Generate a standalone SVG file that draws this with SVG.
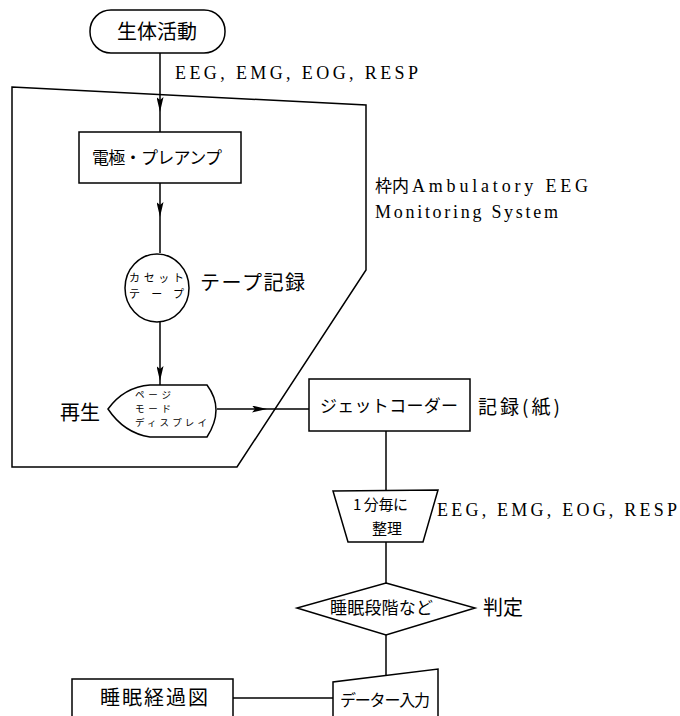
<svg xmlns="http://www.w3.org/2000/svg" width="680" height="716" viewBox="0 0 680 716">
<style>
.s{fill:none;stroke:#000;stroke-width:1.5}
.n{fill:#fff;stroke:#000;stroke-width:1.5}
.jp{font-family:"Noto Sans CJK JP","Noto Sans",sans-serif;fill:#000}
.en{font-family:"Liberation Serif","DejaVu Serif",serif;fill:#000}
</style>
<defs>
<marker id="ah" markerUnits="userSpaceOnUse" viewBox="0 0 15 7" refX="15" refY="3.5" markerWidth="15" markerHeight="7" orient="auto">
<path d="M0,0 L15,3.5 L0,7 L3,3.5 Z" fill="#000"/>
</marker>
</defs>
<g id="frame">
<path class="s" d="M12,87 L366,105 L366,270 L237,467 L12,467 Z"/>
</g>
<g id="connectors">
<path class="s" d="M160,53 V112 V132" marker-mid="url(#ah)"/>
<path class="s" d="M160,183 V217 V253" marker-mid="url(#ah)"/>
<path class="s" d="M160,322 V381 V385" marker-mid="url(#ah)"/>
<path class="s" d="M217,409 H267 H309" marker-mid="url(#ah)"/>
<path class="s" d="M386,431 V491"/>
<path class="s" d="M386,542 V583"/>
<path class="s" d="M386,635 V676"/>
<path class="s" d="M233,698 H333"/>
</g>
<g id="n-start">
<rect class="n" x="90" y="10" width="135" height="43" rx="21" ry="21"/>
<text class="jp" x="157" y="39" font-size="20" text-anchor="middle">生体活動</text>
</g>
<text class="en" x="175" y="79" font-size="18" textLength="243" lengthAdjust="spacing">EEG, EMG, EOG, RESP</text>
<g id="n-electrode">
<rect class="n" x="79" y="132" width="162" height="51"/>
<text class="jp" x="92" y="164" font-size="17" textLength="130" lengthAdjust="spacing">電極・プレアンプ</text>
</g>
<text class="jp" x="375" y="192" font-size="17">枠内</text>
<text class="en" x="412" y="192" font-size="18" textLength="176" lengthAdjust="spacing">Ambulatory EEG</text>
<text class="en" x="375" y="218" font-size="18" textLength="183" lengthAdjust="spacing">Monitoring System</text>
<g id="n-cassette">
<ellipse class="n" cx="157" cy="288" rx="32" ry="34"/>
<text class="jp" x="129" y="282" font-size="11" textLength="55" lengthAdjust="spacing">カセット</text>
<text class="jp" x="129" y="298" font-size="11" textLength="55" lengthAdjust="spacing">テープ</text>
</g>
<text class="jp" x="200" y="290" font-size="20" textLength="105" lengthAdjust="spacing">テープ記録</text>
<g id="n-display">
<path class="n" d="M108,409 Q124,387 150,385 L207,385 Q225,409 207,437 L150,437 Q124,433 108,409 Z"/>
<text class="jp" x="135" y="398" font-size="9.5" textLength="36" lengthAdjust="spacing">ページ</text>
<text class="jp" x="135" y="412" font-size="9.5" textLength="36" lengthAdjust="spacing">モード</text>
<text class="jp" x="135" y="426" font-size="9.5" textLength="72" lengthAdjust="spacing">ディスプレイ</text>
</g>
<text class="jp" x="60" y="420" font-size="20">再生</text>
<g id="n-jetcoder">
<rect class="n" x="309" y="379" width="161" height="52"/>
<text class="jp" x="320" y="412" font-size="17" textLength="138" lengthAdjust="spacing">ジェットコーダー</text>
</g>
<text class="jp" x="478" y="414" font-size="19" textLength="82" lengthAdjust="spacing">記録(紙)</text>
<g id="n-perminute">
<path class="n" d="M333,491 L438,490 L423,542 L348,542 Z"/>
<text class="jp" x="353" y="510" font-size="15" textLength="55" lengthAdjust="spacing">1 分毎に</text>
<text class="jp" x="387" y="534" font-size="15" text-anchor="middle">整理</text>
</g>
<text class="en" x="437" y="516" font-size="18" textLength="240" lengthAdjust="spacing">EEG, EMG, EOG, RESP</text>
<g id="n-judge">
<path class="n" d="M386,583 L475,608 L386,635 L297,608 Z"/>
<text class="jp" x="330" y="614" font-size="17" textLength="103" lengthAdjust="spacing">睡眠段階など</text>
</g>
<text class="jp" x="483" y="615" font-size="20">判定</text>
<g id="n-datainput">
<path class="n" d="M333,720 L333,682 L438,669 L438,720"/>
<text class="jp" x="340" y="706" font-size="16" textLength="90" lengthAdjust="spacing">データー入力</text>
</g>
<g id="n-sleepchart">
<path class="n" d="M72,720 L72,679 L233,679 L233,720"/>
<text class="jp" x="100" y="705" font-size="20" textLength="108" lengthAdjust="spacing">睡眠経過図</text>
</g>
</svg>
